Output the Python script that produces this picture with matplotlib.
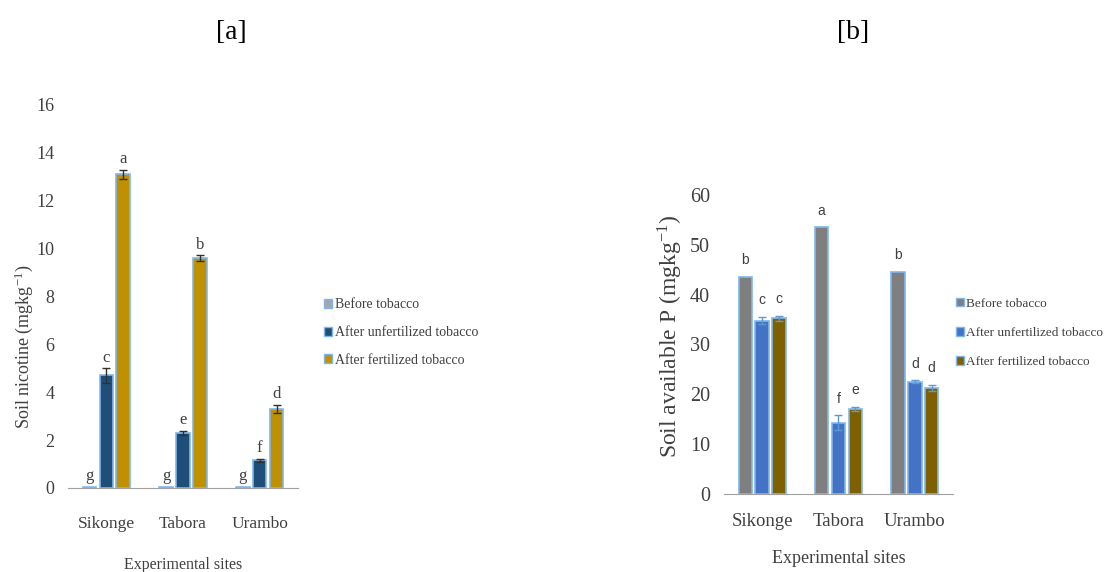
import matplotlib.pyplot as plt
import numpy as np
from matplotlib.patches import Patch

# data
sites = ['Sikonge', 'Tabora', 'Urambo']
series = ['Before tobacco', 'After unfertilized tobacco', 'After fertilized tobacco']

nic_before = [0.03, 0.03, 0.03]
nic_unfert = [4.7, 2.3, 1.15]
nic_fert = [13.1, 9.6, 3.3]
nic_before_err = [0, 0, 0]
nic_unfert_err = [0.3, 0.1, 0.07]
nic_fert_err = [0.2, 0.12, 0.17]
nic_letters = [['g', 'c', 'a'], ['g', 'e', 'b'], ['g', 'f', 'd']]

p_before = [43.5, 53.5, 44.6]
p_unfert = [34.8, 14.3, 22.5]
p_fert = [35.3, 17.1, 21.3]
p_before_err = [0, 0, 0]
p_unfert_err = [0.7, 1.5, 0.3]
p_fert_err = [0.5, 0.4, 0.6]
p_letters = [['b', 'c', 'c'], ['a', 'f', 'e'], ['b', 'd', 'd']]

SERIF = 'Liberation Serif'
plt.rcParams['font.family'] = SERIF
plt.rcParams['mathtext.fontset'] = 'stix'
EDGE = '#7fb6ef'


def panel(ax, vals, errs, letters, colors, ecolor, ymax, ystep, lfont, lsize, offs):
    x = np.arange(len(sites))
    width = 0.176
    step = 0.22
    for i, (v, e, c) in enumerate(zip(vals, errs, colors)):
        pos = x + (i - 1) * step
        ax.bar(pos, v, width, color=c, edgecolor=EDGE, linewidth=1.2, zorder=2)
        if any(e):
            ax.errorbar(pos, v, yerr=e, fmt='none', ecolor=ecolor, elinewidth=1,
                        capsize=3, capthick=1, zorder=3)
        for j in range(len(sites)):
            ax.annotate(letters[j][i], (pos[j], v[j] + e[j]), xytext=(0, offs),
                        textcoords='offset points', ha='center', va='bottom',
                        fontsize=lsize, family=lfont, color='#404040')
    ax.set_xlim(-0.5, len(sites) - 0.5)
    ax.set_ylim(0, ymax)
    ax.set_yticks(np.arange(0, ymax + 0.1, ystep))
    ax.set_xticks(x)
    ax.set_xticklabels(sites)
    for s in ['top', 'right', 'left']:
        ax.spines[s].set_visible(False)
    ax.spines['bottom'].set_color('#a0a0a0')
    ax.tick_params(length=0, colors='#404040', labelsize=13)


fig = plt.figure(figsize=(11.08, 5.72), dpi=100)

# panel a
ax1 = fig.add_axes([0.0614, 0.1469, 0.2076, 0.6696])
c1 = ['#a6a6a6', '#1f4e79', '#bf9000']
panel(ax1, [nic_before, nic_unfert, nic_fert],
      [nic_before_err, nic_unfert_err, nic_fert_err],
      nic_letters, c1, '#303030', 16, 2, SERIF, 12, 2)
ax1.tick_params(axis='y', pad=10, labelsize=13)
ax1.tick_params(axis='x', pad=20, labelsize=12.5)
ax1.set_ylabel('Soil nicotine (mgkg$^{\\mathregular{-1}}$)', fontsize=13, color='#404040')
ax1.yaxis.set_label_coords(-0.143, 0.368)
ax1.set_xlabel('Experimental sites', fontsize=11.5, color='#404040', labelpad=18)
fig.text(0.209, 0.944, '[a]', fontsize=20, ha='center', va='center')
fig.legend(handles=[Patch(facecolor=c, edgecolor=EDGE) for c in c1], labels=series,
           loc='upper left', bbox_to_anchor=(0.281, 0.5), frameon=False,
           handlelength=0.6, handleheight=0.6, handletextpad=0.2,
           labelspacing=1.05, fontsize=10, labelcolor='#404040')

# panel b
ax2 = fig.add_axes([0.6534, 0.1364, 0.2067, 0.5227])
c2 = ['#7f7f7f', '#4472c4', '#7f6000']
panel(ax2, [p_before, p_unfert, p_fert],
      [p_before_err, p_unfert_err, p_fert_err],
      p_letters, c2, '#5b9bd5', 60, 10, 'Liberation Sans', 10, 7)
ax2.tick_params(axis='y', pad=10, labelsize=14.5)
ax2.tick_params(axis='x', pad=14, labelsize=13.5)
ax2.set_ylabel('Soil available P (mgkg$^{\\mathregular{-1}}$)', fontsize=17, color='#404040')
ax2.yaxis.set_label_coords(-0.17, 0.528)
ax2.set_xlabel('Experimental sites', fontsize=13, color='#404040', labelpad=14)
fig.text(0.770, 0.944, '[b]', fontsize=20, ha='center', va='center')
fig.legend(handles=[Patch(facecolor=c, edgecolor=EDGE) for c in c2], labels=series,
           loc='upper left', bbox_to_anchor=(0.852, 0.5), frameon=False,
           handlelength=0.6, handleheight=0.6, handletextpad=0.2,
           labelspacing=1.3, fontsize=9.5, labelcolor='#404040')

fig.savefig('out.png', dpi=100)
